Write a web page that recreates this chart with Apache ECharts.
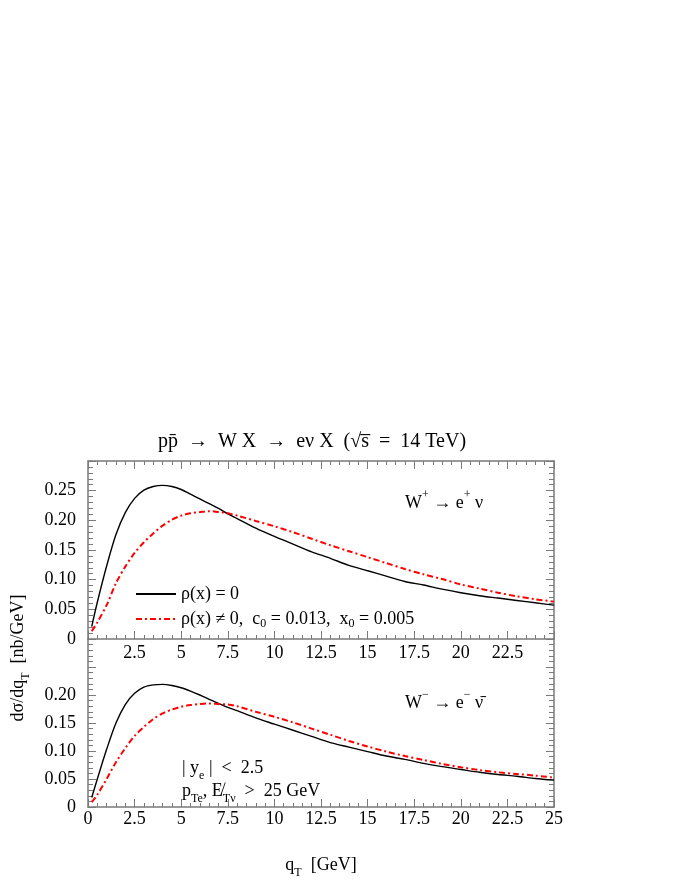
<!DOCTYPE html>
<html>
<head>
<meta charset="utf-8">
<script src="https://cdn.jsdelivr.net/npm/echarts@6/dist/echarts.min.js"></script>
<style>
  html, body { margin: 0; padding: 0; background: #fff; }
  #chart { width: 680px; height: 880px; }
</style>
</head>
<body>
<div id="chart"></div>
<script>
// q_T grid (GeV)
const qT = [0.2, 0.5, 1, 1.5, 2, 2.5, 3, 3.5, 4, 4.5, 5, 5.5, 6, 6.5, 7, 7.5, 8,
  9, 10, 11, 12, 13, 14, 15, 16, 17, 18, 19, 20, 21, 22, 23, 24, 25];

// W+ -> e+ nu, rho(x) = 0
const wPlusRho0 = [0.021, 0.062, 0.123, 0.176, 0.213, 0.237, 0.251, 0.257, 0.259, 0.257, 0.252,
  0.244, 0.236, 0.228, 0.220, 0.211, 0.203, 0.187, 0.173, 0.160, 0.147, 0.136, 0.124, 0.115,
  0.106, 0.097, 0.091, 0.084, 0.078, 0.073, 0.069, 0.065, 0.061, 0.057];
// W+ -> e+ nu, rho(x) != 0
const wPlusRhoC = [0.013, 0.028, 0.057, 0.094, 0.122, 0.145, 0.163, 0.178, 0.191, 0.201, 0.208,
  0.212, 0.214, 0.2155, 0.214, 0.212, 0.208, 0.199, 0.190, 0.180, 0.169, 0.158, 0.148, 0.138,
  0.128, 0.118, 0.109, 0.101, 0.092, 0.085, 0.078, 0.072, 0.067, 0.063];
// W- -> e- nubar, rho(x) = 0
const wMinusRho0 = [0.017, 0.050, 0.103, 0.150, 0.183, 0.203, 0.214, 0.218, 0.219, 0.217, 0.213,
  0.207, 0.200, 0.192, 0.185, 0.178, 0.172, 0.159, 0.148, 0.137, 0.126, 0.115, 0.107, 0.099,
  0.091, 0.085, 0.078, 0.072, 0.067, 0.062, 0.058, 0.055, 0.051, 0.048];
// W- -> e- nubar, rho(x) != 0
const wMinusRhoC = [0.0085, 0.022, 0.050, 0.080, 0.105, 0.127, 0.143, 0.157, 0.167, 0.174, 0.179,
  0.182, 0.184, 0.185, 0.184, 0.183, 0.180, 0.170, 0.161, 0.151, 0.140, 0.129, 0.118, 0.108,
  0.099, 0.091, 0.084, 0.077, 0.071, 0.066, 0.062, 0.059, 0.056, 0.0525];

const xMin = 0, xMax = 25, xStep = 2.5;
const yMin = 0, yMax = 0.3, yStep = 0.05;

const nameA = "ρ(x) = 0";
const nameB = "ρ(x) ≠ 0,  c0 = 0.013,  x0 = 0.005";

const FONT = "Liberation Serif";
const AXIS_COLOR = "#7a7a7a";

const rich = {
  t: { fontFamily: FONT, fontSize: 18, color: "#000", lineHeight: 28 },
  sub: { fontFamily: FONT, fontSize: 12, color: "#000", lineHeight: 16, verticalAlign: "bottom" },
  sup: { fontFamily: FONT, fontSize: 12, color: "#000", lineHeight: 16, verticalAlign: "top" }
};
const titleRich = {
  t: { fontFamily: FONT, fontSize: 20, color: "#000", lineHeight: 26 }
};

function pairs(ys) {
  return qT.map((q, i) => [q, ys[i]]);
}

// frame axis: line + inward ticks
function xAxisOf(grid, pos, labels) {
  return {
    type: "value", gridIndex: grid, position: pos,
    min: xMin, max: xMax, interval: xStep,
    axisLine: { show: true, onZero: false, lineStyle: { color: AXIS_COLOR, width: 1.5 } },
    axisTick: { show: true, inside: true, length: 8, lineStyle: { color: AXIS_COLOR, width: 1 } },
    minorTick: { show: true, splitNumber: 5, length: 4, lineStyle: { color: AXIS_COLOR, width: 1 } },
    splitLine: { show: false },
    axisLabel: labels
  };
}
function yAxisOf(grid, pos, labels) {
  return {
    type: "value", gridIndex: grid, position: pos,
    min: yMin, max: yMax, interval: yStep,
    axisLine: { show: true, onZero: false, lineStyle: { color: AXIS_COLOR, width: 1.5 } },
    axisTick: { show: true, inside: true, length: 8, lineStyle: { color: AXIS_COLOR, width: 1 } },
    minorTick: { show: true, splitNumber: 5, length: 5, lineStyle: { color: AXIS_COLOR, width: 1 } },
    splitLine: { show: false },
    axisLabel: labels
  };
}
const noLabel = { show: false };
const tickFont = { fontFamily: FONT, fontSize: 18, color: "#000" };

function yFmt(limit) {
  return function (v) {
    if (v > limit) return "";
    if (Math.abs(v) < 1e-9) return "0";
    return v.toFixed(2);
  };
}

const chart = echarts.init(document.getElementById("chart"));
chart.setOption({
  animation: false,
  backgroundColor: "#fff",
  grid: [
    { left: 88, top: 461, width: 466, height: 178 },
    { left: 88, top: 639, width: 466, height: 177 }
  ],
  xAxis: [
    xAxisOf(0, "bottom", Object.assign({ show: true, margin: 5, showMinLabel: false, showMaxLabel: false }, tickFont)),
    xAxisOf(0, "top", noLabel),
    Object.assign(xAxisOf(1, "bottom", Object.assign({ show: true, margin: 3 }, tickFont)), {
      name: "{t|q}{sub|T}{t|  [GeV]}",
      nameLocation: "middle",
      nameGap: 44,
      nameTextStyle: { rich: rich }
    })
  ],
  yAxis: [
    yAxisOf(0, "left", Object.assign({ show: true, margin: 12, formatter: yFmt(0.27) }, tickFont)),
    yAxisOf(0, "right", noLabel),
    yAxisOf(1, "left", Object.assign({ show: true, margin: 12, formatter: yFmt(0.22) }, tickFont)),
    yAxisOf(1, "right", noLabel)
  ],
  legend: {
    data: [nameA, nameB],
    orient: "vertical",
    left: 135,
    top: 585,
    padding: 0,
    itemWidth: 40,
    itemHeight: 14,
    itemGap: 7,
    itemStyle: { opacity: 0 },
    formatter: function (name) {
      if (name === nameA) return "{t|ρ(x) = 0}";
      return "{t|ρ(x) ≠ 0,  c}{sub|0}{t| = 0.013,  x}{sub|0}{t| = 0.005}";
    },
    textStyle: {
      fontFamily: FONT, fontSize: 18,
      rich: {
        t: { fontFamily: FONT, fontSize: 18, color: "#000", lineHeight: 22 },
        sub: { fontFamily: FONT, fontSize: 12, color: "#000", lineHeight: 13, verticalAlign: "bottom" }
      }
    }
  },
  graphic: [
    {
      type: "text", x: 312, y: 442,
      style: {
        text: "{t|pp\u0304  →  W X  →  eν X  (√s\u0305  =  14 TeV)}",
        rich: titleRich, align: "center", verticalAlign: "middle"
      }
    },
    {
      type: "text", x: 405, y: 503,
      style: {
        text: "{t|W}{sup|+}{t| → e}{sup|+}{t| ν}",
        rich: rich, align: "left", verticalAlign: "middle"
      }
    },
    {
      type: "text", x: 405, y: 703,
      style: {
        text: "{t|W}{sup|−}{t| → e}{sup|−}{t| ν\u0304}",
        rich: rich, align: "left", verticalAlign: "middle"
      }
    },
    {
      type: "text", x: 182, y: 768,
      style: {
        text: "{t|| y}{sub|e}{t| |  <  2.5}",
        rich: rich, align: "left", verticalAlign: "middle"
      }
    },
    {
      type: "text", x: 182, y: 791,
      style: {
        text: "{t|p}{sub|Te}{t|, E\u0338}{sub|Tν}{t|  >  25 GeV}",
        rich: rich, align: "left", verticalAlign: "middle"
      }
    },
    {
      type: "text", x: 18, y: 658, rotation: Math.PI / 2,
      style: {
        text: "{t|dσ/dq}{sub|T}{t|  [nb/GeV]}",
        rich: rich, align: "center", verticalAlign: "middle"
      }
    }
  ],
  series: [
    {
      name: nameA, type: "line", xAxisIndex: 0, yAxisIndex: 0,
      data: pairs(wPlusRho0), symbol: "none", smooth: 0.3,
      lineStyle: { color: "#000", width: 1.4 }, itemStyle: { color: "#000" }
    },
    {
      name: nameB, type: "line", xAxisIndex: 0, yAxisIndex: 0,
      data: pairs(wPlusRhoC), symbol: "none", smooth: 0.3,
      lineStyle: { color: "#ff0000", width: 2, type: [6, 3, 2, 3] }, itemStyle: { color: "#ff0000" }
    },
    {
      name: nameA, type: "line", xAxisIndex: 2, yAxisIndex: 2,
      data: pairs(wMinusRho0), symbol: "none", smooth: 0.3,
      lineStyle: { color: "#000", width: 1.4 }, itemStyle: { color: "#000" }
    },
    {
      name: nameB, type: "line", xAxisIndex: 2, yAxisIndex: 2,
      data: pairs(wMinusRhoC), symbol: "none", smooth: 0.3,
      lineStyle: { color: "#ff0000", width: 2, type: [6, 3, 2, 3] }, itemStyle: { color: "#ff0000" }
    }
  ]
});
</script>
</body>
</html>
